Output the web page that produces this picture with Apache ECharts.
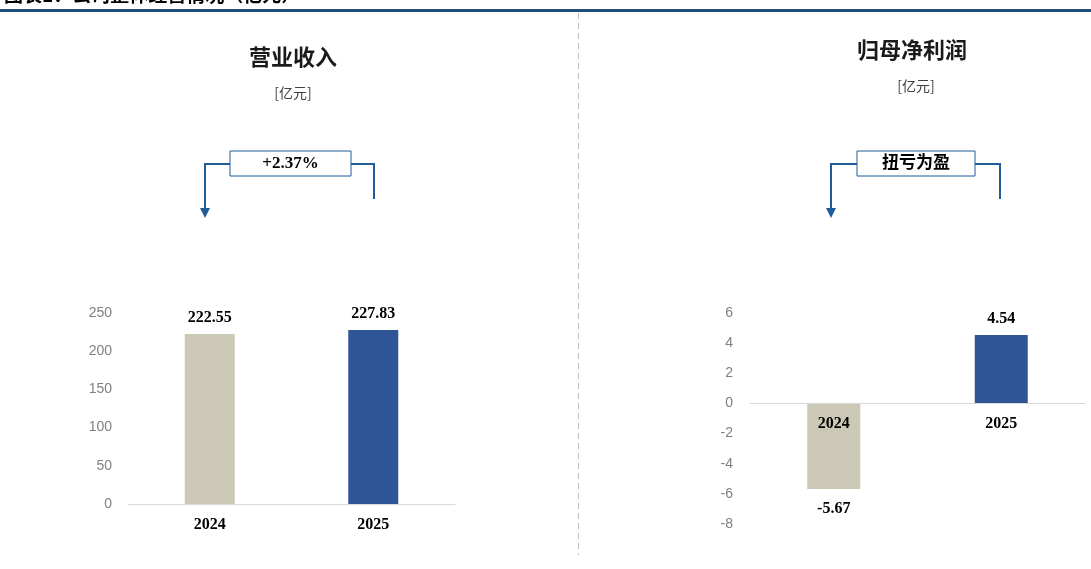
<!DOCTYPE html>
<html>
<head>
<meta charset="utf-8">
<script src="https://cdn.jsdelivr.net/npm/echarts@6/dist/echarts.min.js"></script>
<style>html,body{margin:0;padding:0;background:#fff;}#c{width:1091px;height:569px;}</style>
</head>
<body>
<div id="c"></div>
<script>
const categories = ['2024', '2025'];
const revenue = [222.55, 227.83];
const netProfit = [-5.67, 4.54];
const revTicks = {min: 0, max: 250, interval: 50};
const npTicks = {min: -8, max: 6, interval: 2};
const colors = ['#CCC8B6', '#2F5597'];
const titles = ['营业收入', '归母净利润'];
const unitText = '[亿元]';
const notes = ['+2.37%', '扭亏为盈'];
const headerText = '图表1：公司整体经营情况（亿元）';

const serif = '"Liberation Serif", "Noto Sans CJK SC", serif';
const cjk = '"Noto Sans CJK SC", sans-serif';
const arrowBlue = '#1F5C99';

function annot(boxL, boxR, leftX, rightX, text) {
  return [
    {type: 'rect', shape: {x: boxL, y: 151, width: boxR - boxL, height: 25}, style: {fill: '#fff', stroke: arrowBlue, lineWidth: 1}},
    {type: 'text', x: (boxL + boxR) / 2, y: 164, style: {text: text, font: 'bold 17px ' + serif, fill: '#000', align: 'center', verticalAlign: 'middle'}},
    {type: 'polyline', shape: {points: [[boxL, 164], [leftX, 164], [leftX, 209]]}, style: {stroke: arrowBlue, lineWidth: 2, fill: null}},
    {type: 'polygon', shape: {points: [[leftX - 5, 208], [leftX + 5, 208], [leftX, 218]]}, style: {fill: arrowBlue}},
    {type: 'polyline', shape: {points: [[boxR, 164], [rightX, 164], [rightX, 199]]}, style: {stroke: arrowBlue, lineWidth: 2, fill: null}}
  ];
}

const grid1Top = 313, grid1Bottom = 45, H = 569;
const g1Height = H - grid1Top - grid1Bottom;
const zeroOffset = -g1Height * (0 - npTicks.min) / (npTicks.max - npTicks.min);

const chart = echarts.init(document.getElementById('c'));
const labelStyle = {show: true, fontFamily: serif, fontWeight: 'bold', fontSize: 16, color: '#000', distance: 8};
chart.setOption({
  animation: false,
  grid: [
    {left: 128, right: 636, top: 313, bottom: 65, containLabel: false},
    {left: 750, right: 6, top: grid1Top, bottom: grid1Bottom, containLabel: false}
  ],
  xAxis: [
    {type: 'category', gridIndex: 0, data: categories, axisTick: {show: false},
      axisLine: {lineStyle: {color: '#D9D9D9', width: 1}},
      axisLabel: {fontFamily: serif, fontWeight: 'bold', fontSize: 16, color: '#000', margin: 13}},
    {type: 'category', gridIndex: 1, data: categories, axisTick: {show: false}, offset: zeroOffset,
      axisLine: {onZero: false, lineStyle: {color: '#D9D9D9', width: 1}},
      axisLabel: {fontFamily: serif, fontWeight: 'bold', fontSize: 16, color: '#000', margin: 12}, z: 10}
  ],
  yAxis: [
    {type: 'value', gridIndex: 0, min: revTicks.min, max: revTicks.max, interval: revTicks.interval,
      splitLine: {show: false}, axisLine: {show: false}, axisTick: {show: false},
      axisLabel: {fontFamily: '"Liberation Sans", Arial, sans-serif', fontSize: 14, color: '#7F7F7F', margin: 16}},
    {type: 'value', gridIndex: 1, min: npTicks.min, max: npTicks.max, interval: npTicks.interval,
      splitLine: {show: false}, axisLine: {show: false}, axisTick: {show: false},
      axisLabel: {fontFamily: '"Liberation Sans", Arial, sans-serif', fontSize: 14, color: '#7F7F7F', margin: 17}}
  ],
  series: [
    {type: 'bar', xAxisIndex: 0, yAxisIndex: 0, barWidth: 50, z: 2,
      data: revenue.map((v, i) => ({value: v, itemStyle: {color: colors[i]}})),
      label: Object.assign({position: 'top'}, labelStyle)},
    {type: 'bar', xAxisIndex: 1, yAxisIndex: 1, barWidth: 53, z: 2,
      data: netProfit.map((v, i) => ({value: v, itemStyle: {color: colors[i]},
        label: {position: v < 0 ? 'bottom' : 'top', distance: v < 0 ? 12 : 8}})),
      label: Object.assign({position: 'top'}, labelStyle)}
  ],
  graphic: [
    {type: 'text', x: 4, y: -15, style: {text: headerText, font: 'bold 19px ' + cjk, fill: '#000'}},
    {type: 'rect', shape: {x: 0, y: 9, width: 1091, height: 3}, style: {fill: '#1F4E79'}},
    {type: 'line', shape: {x1: 578.5, y1: 13, x2: 578.5, y2: 555}, style: {stroke: '#BFBFBF', lineWidth: 1, lineDash: [6, 4]}},
    {type: 'text', x: 293, y: 57, style: {text: titles[0], font: 'bold 22px ' + cjk, fill: '#1a1a1a', align: 'center', verticalAlign: 'middle'}},
    {type: 'text', x: 293, y: 93, style: {text: unitText, font: '14px ' + cjk, fill: '#404040', align: 'center', verticalAlign: 'middle'}},
    {type: 'text', x: 912, y: 50, style: {text: titles[1], font: 'bold 22px ' + cjk, fill: '#1a1a1a', align: 'center', verticalAlign: 'middle'}},
    {type: 'text', x: 916, y: 86, style: {text: unitText, font: '14px ' + cjk, fill: '#404040', align: 'center', verticalAlign: 'middle'}},
    ...annot(230, 351, 205, 374, notes[0]),
    ...annot(857, 975, 831, 1000, notes[1])
  ]
});
</script>
</body>
</html>
